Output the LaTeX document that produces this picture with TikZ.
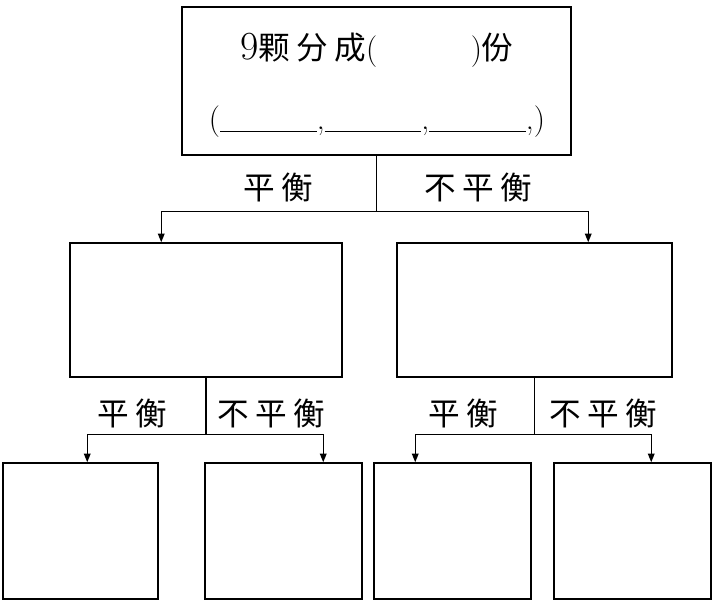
\documentclass[tikz,border=0pt]{standalone}
\usepackage{fontspec}
\newfontfamily\cjk[LetterSpace=20]{Noto Sans CJK SC}
\usetikzlibrary{arrows.meta,calc}

\newcommand*{\blank}{\rule[-2pt]{2.9cm}{0.9pt}}

\begin{document}
\begin{tikzpicture}
[
	x=0.03cm, y=-0.03cm,
	box/.style={draw,line width=1.3pt,rectangle,inner sep=0pt},
	branch/.style={line width=1.1pt},
	arr/.style={line width=1.1pt,-{Triangle[length=0.26cm,width=0.2cm]}},
	lab/.style={font=\fontsize{27}{30}\selectfont\cjk,inner sep=0pt},
	txt/.style={font=\fontsize{27}{30}\selectfont,inner sep=0pt}
]

	\useasboundingbox (0,0) rectangle (721,604);

	% top box
	\node[box,minimum width=389*0.03cm,minimum height=148*0.03cm] at (376.5,81) (top) {};
	\node[txt] at (377,50) (line1) {{\fontsize{34}{36}\selectfont 9}{\cjk 颗分成}(\hspace{2.8cm}){\cjk 份}};
	\node[txt] at (377,122) (line2) {(\blank,\blank,\blank,)};

	% middle boxes
	\node[box,minimum width=272*0.03cm,minimum height=134*0.03cm] at (206,310) (mL) {};
	\node[box,minimum width=275*0.03cm,minimum height=134*0.03cm] at (534.5,310) (mR) {};

	% bottom boxes
	\node[box,minimum width=155*0.03cm,minimum height=136*0.03cm] at (80.5,531) (bLL) {};
	\node[box,minimum width=157*0.03cm,minimum height=136*0.03cm] at (283.5,531) (bLR) {};
	\node[box,minimum width=157*0.03cm,minimum height=136*0.03cm] at (452.5,531) (bRL) {};
	\node[box,minimum width=157*0.03cm,minimum height=136*0.03cm] at (632.5,531) (bRR) {};

	% first weighing
	\coordinate (j0) at ($(top.south)+(0,56)$);
	\coordinate (a0L) at ($(mL.north west)+(92,0)$);
	\coordinate (a0R) at ($(mR.north west)+(192,0)$);
	\draw[branch] (top.south) -- (j0);
	\draw[arr] (j0) -| (a0L);
	\draw[arr] (j0) -| (a0R);
	\node[lab] at (278,187) (p0) {平衡};
	\node[lab] at (478,187) (q0) {不平衡};

	% second weighing, left
	\coordinate (j1) at ($(mL.south)+(0,57)$);
	\coordinate (a1L) at ($(bLL.north west)+(85,0)$);
	\coordinate (a1R) at ($(bLR.north west)+(119,0)$);
	\draw[branch] (mL.south) -- (j1);
	\draw[arr] (j1) -| (a1L);
	\draw[arr] (j1) -| (a1R);
	\node[lab] at (132,413) (p1) {平衡};
	\node[lab] at (271,413) (q1) {不平衡};

	% second weighing, right
	\coordinate (j2) at ($(mR.south)+(0,57)$);
	\coordinate (a2L) at ($(bRL.north west)+(42,0)$);
	\coordinate (a2R) at ($(bRR.north west)+(98,0)$);
	\draw[branch] (mR.south) -- (j2);
	\draw[arr] (j2) -| (a2L);
	\draw[arr] (j2) -| (a2R);
	\node[lab] at (463,413) (p2) {平衡};
	\node[lab] at (603,413) (q2) {不平衡};

\end{tikzpicture}
\end{document}
